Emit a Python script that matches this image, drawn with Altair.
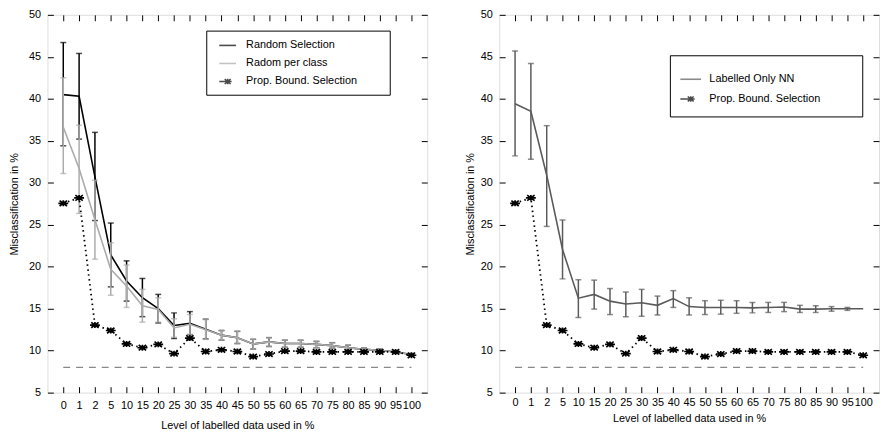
import altair as alt
import pandas as pd

FONT = "Liberation Sans"

cats = ["0", "1", "2", "5", "10", "15", "20", "25", "30", "35", "40", "45",
        "50", "55", "60", "65", "70", "75", "80", "85", "90", "95", "100"]

# Left panel: Random Selection
rs_mean = [40.5, 40.3, 30.7, 21.4, 18.3, 16.3, 15.0, 13.0, 13.25, 12.55, 11.85, 11.55,
           10.8, 11.05, 10.85, 10.85, 10.75, 10.6, 10.35, 10.15, 10.05, 9.85, 9.55]
rs_hi = [46.7, 45.4, 36.0, 25.2, 20.7, 18.6, 16.7, 14.5, 14.65, 13.75, 12.4, 12.3,
         11.35, 11.55, 11.25, 11.25, 11.1, 10.95, 10.65, 10.35, 10.2, 10.0, 9.65]
rs_lo = [34.4, 35.2, 25.5, 17.6, 15.9, 14.05, 13.3, 11.45, 11.9, 11.4, 11.25, 10.85,
         10.2, 10.5, 10.4, 10.4, 10.35, 10.3, 10.05, 9.95, 9.9, 9.7, 9.45]

# Left panel: Radom per class
pc_mean = [36.6, 31.7, 25.6, 19.7, 17.7, 15.35, 14.9, 12.7, 13.15, 12.5, 11.85, 11.55,
           10.8, 11.05, 10.85, 10.85, 10.75, 10.6, 10.35, 10.15, 10.05, 9.85, 9.55]
pc_hi = [42.5, 36.85, 30.3, 22.85, 20.2, 17.3, 16.3, 13.8, 14.3, 13.7, 12.4, 12.3,
         11.35, 11.55, 11.25, 11.25, 11.1, 10.95, 10.65, 10.35, 10.2, 10.0, 9.65]
pc_lo = [31.1, 26.35, 20.9, 16.6, 15.15, 13.4, 13.4, 11.6, 11.95, 11.35, 11.25, 10.85,
         10.2, 10.5, 10.4, 10.4, 10.35, 10.3, 10.05, 9.95, 9.9, 9.7, 9.45]

# Both panels: Prop. Bound. Selection
pb_mean = [27.55, 28.2, 13.05, 12.4, 10.8, 10.35, 10.75, 9.65, 11.5, 9.9, 10.1, 9.9,
           9.3, 9.6, 9.95, 9.95, 9.85, 9.85, 9.85, 9.85, 9.85, 9.85, 9.45]

# Right panel: Labelled Only NN
nn_mean = [39.4, 38.5, 30.9, 22.05, 16.25, 16.7, 15.9, 15.55, 15.7, 15.4, 16.2, 15.25,
           15.15, 15.15, 15.15, 15.1, 15.15, 15.2, 14.95, 14.95, 15.0, 15.0, 15.0]
nn_hi = [45.7, 44.2, 36.8, 25.55, 18.45, 18.4, 17.4, 17.0, 17.3, 16.5, 17.15, 16.3,
         15.95, 16.0, 15.95, 15.75, 15.75, 15.75, 15.4, 15.35, 15.25, 15.15, 15.0]
nn_lo = [33.2, 32.8, 24.8, 18.55, 13.95, 14.95, 14.3, 14.05, 14.1, 14.25, 15.15, 14.25,
         14.3, 14.35, 14.45, 14.5, 14.55, 14.65, 14.55, 14.55, 14.7, 14.8, 15.0]

# dashed reference level
ref_x = ["0", "100"]
ref_y = [8.0, 8.0]

y_ticks = [5, 10, 15, 20, 25, 30, 35, 40, 45, 50]

STAR = "M-1,0L1,0M-0.75,-0.55L0.75,0.55M-0.75,0.55L0.75,-0.55M0,-0.6L0,0.6"


def series_df(name, mean, lo=None, hi=None):
    d = {"cat": cats, "series": name, "mean": mean}
    if lo is not None:
        d["lo"] = lo
        d["hi"] = hi
    return pd.DataFrame(d)


def panel(series_list, order, colors, leg, lab_pad, x_title_pad, y_title_pad, sym_half):
    W, H = 385, 383
    xs = alt.Scale(type="point", padding=1, domain=cats)
    ys = alt.Scale(domain=[5, 50], nice=False, zero=False)

    star_leg = ("M-%.2f,0L0,0M-0.8,0L0.8,0M-0.6,-0.5L0.6,0.5M-0.6,0.5L0.6,-0.5M0,-0.55L0,0.55"
                % sym_half)
    line_leg = "M-%.2f,0L%.2f,0" % (sym_half, sym_half)
    shapes = [star_leg if s == "Prop. Bound. Selection" else line_leg for s in order]

    # invisible tiny legend title: it only sets the width of the framed legend box
    legend = alt.Legend(
        orient="none", legendX=leg["x"], legendY=leg["y"],
        padding=leg["pad"], rowPadding=leg["rowpad"], symbolSize=100,
        symbolOffset=leg["symoff"], labelOffset=leg["laboff"],
        symbolStrokeWidth=1.6, symbolFillColor="transparent",
        labelFont=FONT, labelFontSize=11, labelColor="black",
        labelLimit=400, strokeColor="black", cornerRadius=0,
        title="M" * leg["nm"], titleOrient="top", titlePadding=leg["tpad"],
        titleOpacity=0, titleFontSize=2, titleLimit=1000, titleFont=FONT,
    )
    color = alt.Color("series:N", scale=alt.Scale(domain=order, range=colors),
                      legend=legend)
    shape = alt.Shape("series:N", scale=alt.Scale(domain=order, range=shapes),
                      legend=legend)

    ref = pd.DataFrame({"cat": ref_x, "v": ref_y})
    bottom_axis = alt.Axis(orient="bottom", tickSize=6, offset=-6, domain=False, grid=False,
                           labelAngle=0, labelPadding=lab_pad, labelOverlap=False,
                           labelFont=FONT, labelFontSize=11, labelColor="black",
                           tickColor="black", tickWidth=1,
                           title="Level of labelled data used in %", titleFont=FONT,
                           titleFontSize=11, titleFontWeight="normal", titleColor="black",
                           titlePadding=x_title_pad)
    left_axis = alt.Axis(orient="left", values=y_ticks, tickSize=6, offset=-6, domain=False,
                         grid=False, labelPadding=7, labelFont=FONT, labelFontSize=11,
                         labelColor="black", tickColor="black", tickWidth=1,
                         title="Misclassification in %", titleFont=FONT, titleFontSize=11,
                         titleFontWeight="normal", titleColor="black",
                         titlePadding=y_title_pad)
    top_axis = alt.Axis(orient="top", tickSize=6, offset=-6, domain=False, grid=False,
                        labels=False, tickColor="black", tickWidth=1, title=None)
    right_axis = alt.Axis(orient="right", values=y_ticks, tickSize=6, offset=-6, domain=False,
                          grid=False, labels=False, tickColor="black", tickWidth=1, title=None)

    layers = []
    layers.append(alt.Chart(ref).mark_line(color="#888888", strokeDash=[7, 6], strokeWidth=1.3).encode(
        x=alt.X("cat:O", scale=xs, sort=cats, axis=bottom_axis),
        y=alt.Y("v:Q", scale=ys, axis=left_axis)))
    layers.append(alt.Chart(ref).mark_line(opacity=0).encode(
        x=alt.X("cat:O", scale=xs, sort=cats, axis=top_axis),
        y=alt.Y("v:Q", scale=ys, axis=right_axis)))

    xn = alt.X("cat:O", scale=xs, sort=cats, axis=None)
    for df, kind in series_list:
        if kind == "err":
            base = alt.Chart(df).transform_filter("datum.hi > datum.lo")
            layers.append(base.mark_rule(strokeWidth=1.5).encode(
                x=xn, y=alt.Y("lo:Q", scale=ys, axis=None), y2="hi:Q", color=color))
            layers.append(base.mark_tick(size=6, thickness=1.5).encode(
                x=xn, y=alt.Y("hi:Q", scale=ys, axis=None), color=color))
            layers.append(base.mark_tick(size=6, thickness=1.5).encode(
                x=xn, y=alt.Y("lo:Q", scale=ys, axis=None), color=color))
            layers.append(alt.Chart(df).mark_line(strokeWidth=1.6).encode(
                x=xn, y=alt.Y("mean:Q", scale=ys, axis=None), color=color))
        else:
            layers.append(alt.Chart(df).mark_line(strokeWidth=1.8, strokeDash=[1.5, 3.5]).encode(
                x=xn, y=alt.Y("mean:Q", scale=ys, axis=None), color=color))
            layers.append(alt.Chart(df).mark_point(shape=STAR, size=100, filled=False,
                                                   strokeWidth=1.7, opacity=1).encode(
                x=xn, y=alt.Y("mean:Q", scale=ys, axis=None), color=color))
    # legend carrier: one invisible point per series, so that the legend shows a line
    # for the line series and a line with a star for the star series
    leg_df = pd.DataFrame({"series": order, "cat": [cats[0]] * len(order), "v": [5.0] * len(order)})
    layers.append(alt.Chart(leg_df).mark_point(filled=False, opacity=0).encode(
        x=xn, y=alt.Y("v:Q", scale=ys, axis=None), color=color, shape=shape))

    return alt.layer(*layers).resolve_axis(x="independent", y="independent").properties(
        width=W, height=H)


left = panel(
    [(series_df("Random Selection", rs_mean, rs_lo, rs_hi), "err"),
     (series_df("Radom per class", pc_mean, pc_lo, pc_hi), "err"),
     (series_df("Prop. Bound. Selection", pb_mean), "pts")],
    ["Random Selection", "Radom per class", "Prop. Bound. Selection"],
    ["#000000", "#ababab", "#000000"],
    {"x": 161, "y": 16, "pad": 7, "rowpad": 7.3, "symoff": 8.7, "laboff": 12.7,
     "nm": 103, "tpad": 0},
    lab_pad=7.5, x_title_pad=9, y_title_pad=8.8, sym_half=1.7)

right = panel(
    [(series_df("Labelled Only NN", nn_mean, nn_lo, nn_hi), "err"),
     (series_df("Prop. Bound. Selection", pb_mean), "pts")],
    ["Labelled Only NN", "Prop. Bound. Selection"],
    ["#5a5a5a", "#000000"],
    {"x": 173, "y": 41, "pad": 11.7, "rowpad": 9, "symoff": 3.4, "laboff": 12.9,
     "nm": 103, "tpad": 4.6},
    lab_pad=4.5, x_title_pad=5, y_title_pad=4.8, sym_half=2.1)

chart = alt.hconcat(left, right, spacing=36).resolve_scale(
    color="independent", shape="independent", x="independent", y="independent").properties(
    padding={"left": 0, "top": -3, "right": 0, "bottom": 0}
).configure_view(stroke="black", strokeWidth=1.5).configure_legend(
    strokeWidth=1.5).configure(background="white")

chart.save("out.html", embed_options={"renderer": "svg", "actions": False})
